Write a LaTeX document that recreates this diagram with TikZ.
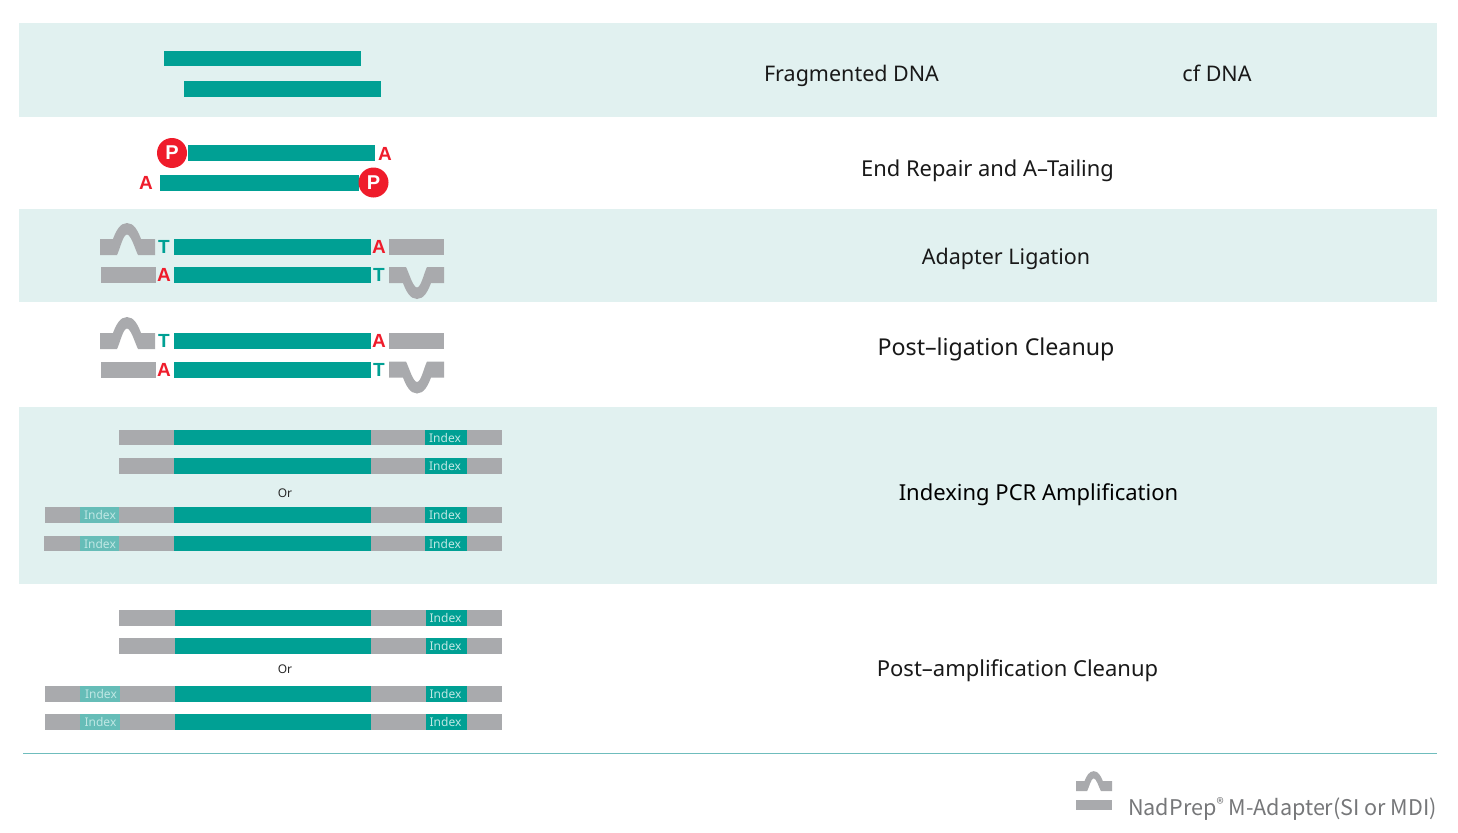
\documentclass[tikz,border=0pt]{standalone}
\usepackage{fontspec}
\setmainfont{Noto Sans}
\newfontfamily\legendfont{Noto Sans CJK SC}
\newfontfamily\boldlabel{Liberation Sans}
\definecolor{bandc}{HTML}{E1F1F0}
\definecolor{tealc}{HTML}{00A094}
\definecolor{grayc}{HTML}{A9AAAD}
\definecolor{redc}{HTML}{EF1C2B}
\definecolor{lightidx}{HTML}{66BDB8}
\definecolor{rulec}{HTML}{6FBDBD}
\definecolor{legendc}{HTML}{767779}
\newcommand{\rbox}[5]{\fill[#5] (#1,#2) rectangle (#3,#4);}
\newcommand{\humpshape}[4]{%
  \fill[grayc,shift={(#1,#2)},xscale=#3,yscale=#4]
    (0,0) -- (0,-16) -- (13,-16) .. controls (16,-24) and (20,-32) .. (27,-32)
    .. controls (34,-32) and (38,-24) .. (41,-16) -- (55,-16) -- (55,0) -- (38,0)
    .. controls (35,-6) and (31,-20.5) .. (27,-20.5) .. controls (23,-20.5) and (20,-6) .. (17,0) -- cycle;}
\newcommand{\ligated}[2]{%
  \humpshape{100}{#1+16}{1}{1}
  \rbox{389}{#1}{444}{#1+16}{grayc}
  \rbox{101}{#2}{155.5}{#2+16}{grayc}
  \humpshape{444}{#2}{-1}{-1}
  \rbox{174}{#1}{370.5}{#1+16}{tealc}
  \rbox{174}{#2}{370.5}{#2+16}{tealc}
  \node[basetxt,tealc] at (164,#1+8) {T};
  \node[basetxt,redc] at (379,#1+8) {A};
  \node[basetxt,redc] at (164,#2+8) {A};
  \node[basetxt,tealc] at (379,#2+8) {T};}
\newcommand{\strand}[3]{%
  \rbox{#2}{#1}{502}{#1+15.5}{grayc}
  \rbox{174+#3}{#1}{370.5+#3}{#1+15.5}{tealc}
  \rbox{425+#3}{#1}{467}{#1+15.5}{tealc}
  \node[idx] at (445+#3,#1+8) {Index};}
\newcommand{\leftindex}[3]{%
  \rbox{80}{#1}{#2}{#1+15.5}{lightidx}
  \node[idx] at (#3,#1+8) {Index};}
\tikzset{
  lab/.style={inner sep=0pt,anchor=base,font=\fontsize{21.5}{24}\selectfont,text=black!90},
  basetxt/.style={inner sep=0pt,font=\boldlabel\bfseries\fontsize{19}{20}\selectfont},
  idx/.style={inner sep=0pt,text=white!75!tealc,font=\fontsize{12}{14}\selectfont},
  ortxt/.style={inner sep=0pt,font=\fontsize{12}{13}\selectfont,text=black!85},
  pball/.style={circle,fill=redc,minimum size=30pt,inner sep=0pt,text=white,font=\boldlabel\bfseries\fontsize{20}{20}\selectfont},
}
\begin{document}
\begin{tikzpicture}[x=1pt,y=-1pt]
\useasboundingbox (0,0) rectangle (1458,832);
\fill[white] (0,0) rectangle (1458,832);
\rbox{19}{23}{1437}{117}{bandc}
\rbox{19}{209}{1437}{302}{bandc}
\rbox{19}{407}{1437}{584}{bandc}
\rbox{164}{51}{360.5}{66.5}{tealc}
\rbox{184}{81.5}{380.5}{97}{tealc}
\rbox{187.5}{145}{374.5}{160.5}{tealc}
\rbox{160}{175}{359}{190.5}{tealc}
\node[pball] (p1) at (172,153) {P};
\node[pball] (p2) at (373.5,182.5) {P};
\node[basetxt,redc] (a1) at (385,154) {A};
\node[basetxt,redc] (a2) at (146,183) {A};
\ligated{239}{267}
\ligated{333}{361.5}
\strand{429.5}{119}{0}
\strand{458}{118.5}{0}
\node[ortxt] (or1) at (285,493.5) {Or};
\strand{507}{45}{0}
\leftindex{507}{119}{100}
\strand{535.5}{44}{0}
\leftindex{535.5}{119}{100}
\strand{610}{119}{0.5}
\strand{638}{118.5}{0.5}
\node[ortxt] (or2) at (285,669.5) {Or};
\strand{686}{45}{0.5}
\leftindex{686}{120}{101}
\strand{714}{44.5}{0.5}
\leftindex{714}{120}{100.5}
\node[lab] (l1) at (851.5,82) {Fragmented DNA};
\node[lab] (l2) at (1217,82) {cf DNA};
\node[lab,font=\fontsize{21.9}{24}\selectfont] (l3) at (987.5,176) {End Repair and A–Tailing};
\node[lab] (l4) at (1006,264) {Adapter Ligation};
\node[lab,font=\fontsize{23.2}{24}\selectfont] (l5) at (996,355) {Post–ligation Cleanup};
\node[lab,font=\fontsize{22}{24}\selectfont,text=black] (l6) at (1038.5,500) {Indexing PCR Amplification};
\node[lab,font=\fontsize{22}{24}\selectfont] (l7) at (1017.5,676) {Post–amplification Cleanup};
\rbox{23}{752.6}{1437}{754.4}{rulec}
\humpshape{1076}{791}{0.655}{0.62}
\rbox{1076}{800}{1112}{809.5}{grayc}
\node[inner sep=0pt,anchor=base west,text=legendc,font=\legendfont\fontsize{21.6}{26}\selectfont] (leg) at (1128,815) {NadPrep\raisebox{0.5ex}{\fontsize{15}{15}\selectfont ®} M-Adapter(SI or MDI)};
\end{tikzpicture}
\end{document}
